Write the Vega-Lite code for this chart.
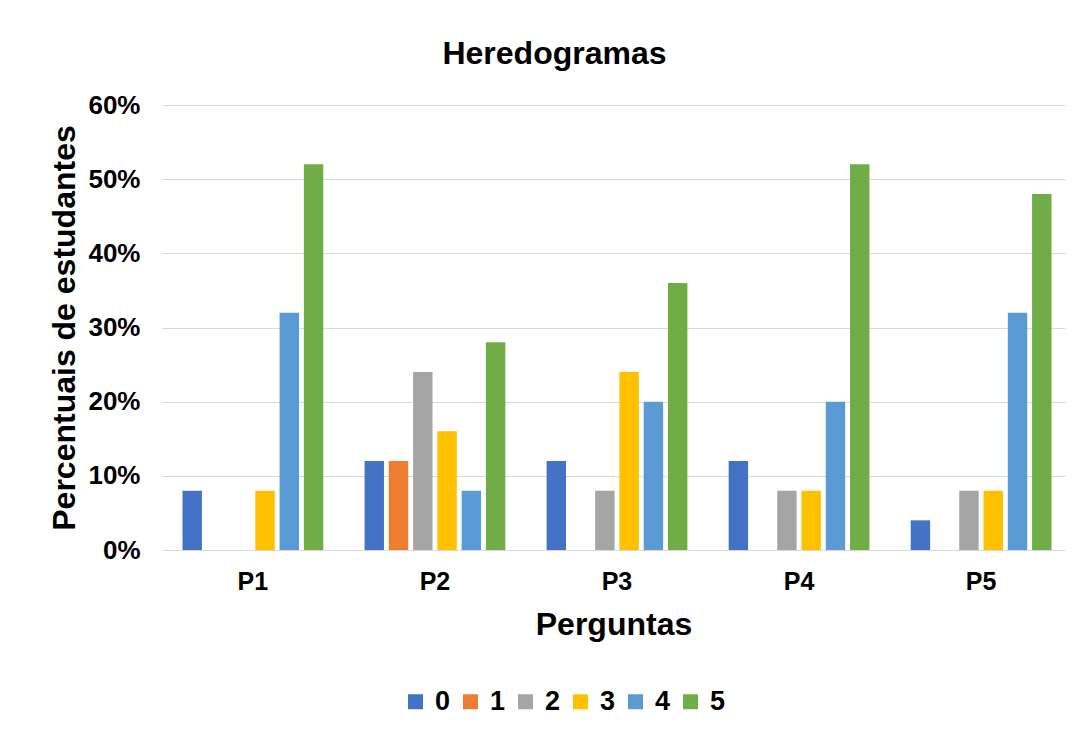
{
  "$schema": "https://vega.github.io/schema/vega-lite/v6.json",
  "autosize": "none",
  "width": 903,
  "height": 445,
  "padding": {"left": 162, "top": 105, "right": 22, "bottom": 183},
  "background": "white",
  "title": {
    "text": "Heredogramas",
    "font": "Liberation Sans",
    "fontSize": 32,
    "fontWeight": "bold",
    "color": "#000000",
    "anchor": "middle",
    "dx": -59,
    "offset": 21
  },
  "data": {
    "values": [
      {"p": "P1", "s": "0", "v": 0.08}, {"p": "P1", "s": "1", "v": 0}, {"p": "P1", "s": "2", "v": 0}, {"p": "P1", "s": "3", "v": 0.08}, {"p": "P1", "s": "4", "v": 0.32}, {"p": "P1", "s": "5", "v": 0.52},
      {"p": "P2", "s": "0", "v": 0.12}, {"p": "P2", "s": "1", "v": 0.12}, {"p": "P2", "s": "2", "v": 0.24}, {"p": "P2", "s": "3", "v": 0.16}, {"p": "P2", "s": "4", "v": 0.08}, {"p": "P2", "s": "5", "v": 0.28},
      {"p": "P3", "s": "0", "v": 0.12}, {"p": "P3", "s": "1", "v": 0}, {"p": "P3", "s": "2", "v": 0.08}, {"p": "P3", "s": "3", "v": 0.24}, {"p": "P3", "s": "4", "v": 0.20}, {"p": "P3", "s": "5", "v": 0.36},
      {"p": "P4", "s": "0", "v": 0.12}, {"p": "P4", "s": "1", "v": 0}, {"p": "P4", "s": "2", "v": 0.08}, {"p": "P4", "s": "3", "v": 0.08}, {"p": "P4", "s": "4", "v": 0.20}, {"p": "P4", "s": "5", "v": 0.52},
      {"p": "P5", "s": "0", "v": 0.04}, {"p": "P5", "s": "1", "v": 0}, {"p": "P5", "s": "2", "v": 0.08}, {"p": "P5", "s": "3", "v": 0.08}, {"p": "P5", "s": "4", "v": 0.32}, {"p": "P5", "s": "5", "v": 0.48}
    ]
  },
  "mark": {"type": "bar"},
  "encoding": {
    "x": {
      "field": "p",
      "type": "nominal",
      "scale": {"paddingInner": 0.2, "paddingOuter": 0.08, "align": 0.62},
      "axis": {
        "title": "Perguntas",
        "labelAngle": 0,
        "labelFont": "Liberation Sans",
        "labelFontSize": 25,
        "labelFontWeight": "bold",
        "labelColor": "#000000",
        "labelPadding": 19,
        "titleFont": "Liberation Sans",
        "titleFontSize": 32,
        "titleFontWeight": "bold",
        "titleColor": "#000000",
        "titlePadding": 15,
        "ticks": false,
        "domainColor": "#d9d9d9",
        "domainWidth": 1
      }
    },
    "xOffset": {
      "field": "s",
      "type": "nominal",
      "scale": {"paddingInner": 0.2, "paddingOuter": 0.1}
    },
    "y": {
      "field": "v",
      "type": "quantitative",
      "scale": {"domain": [0, 0.6]},
      "axis": {
        "title": "Percentuais de estudantes",
        "format": ".0%",
        "values": [0, 0.1, 0.2, 0.3, 0.4, 0.5, 0.6],
        "labelFont": "Liberation Sans",
        "labelFontSize": 26,
        "labelFontWeight": "bold",
        "labelColor": "#000000",
        "labelPadding": 22,
        "titleFont": "Liberation Sans",
        "titleFontSize": 32,
        "titleFontWeight": "bold",
        "titleColor": "#000000",
        "titlePadding": 6,
        "ticks": false,
        "domain": false,
        "gridColor": "#d9d9d9",
        "gridWidth": 1
      }
    },
    "color": {
      "field": "s",
      "type": "nominal",
      "scale": {
        "domain": ["0", "1", "2", "3", "4", "5"],
        "range": ["#4472C4", "#ED7D31", "#A5A5A5", "#FFC000", "#5B9BD5", "#70AD47"]
      },
      "legend": {
        "title": null,
        "orient": "none",
        "direction": "horizontal",
        "legendX": 240,
        "legendY": 583,
        "symbolType": "square",
        "symbolSize": 225,
        "symbolStrokeWidth": 0,
        "labelFont": "Liberation Sans",
        "labelFontSize": 27,
        "labelFontWeight": "bold",
        "labelColor": "#000000",
        "labelOffset": 6,
        "columnPadding": 6
      }
    }
  },
  "config": {
    "view": {"stroke": null}
  }
}
